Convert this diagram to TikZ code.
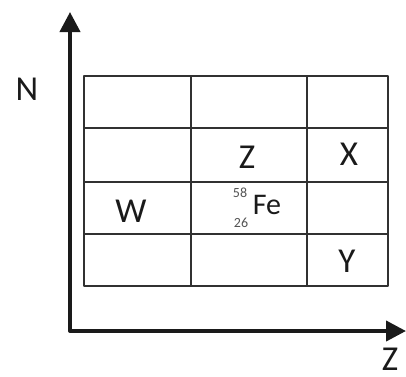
\documentclass[tikz,border=0pt]{standalone}
\usepackage{fontspec}
\setmainfont{Carlito}
\usetikzlibrary{arrows.meta}
\definecolor{ink}{HTML}{1A1A1A}
\begin{document}
\begin{tikzpicture}[x=1pt,y=-1pt,line join=round,
    font=\fontsize{35}{38}\selectfont,
    lbl/.style={text=ink,inner sep=0pt},
    small/.style={text=ink!75,inner sep=0pt,font=\fontsize{14}{15}\selectfont}]
  \useasboundingbox (0,0) rectangle (406,376);
  % axes
  \coordinate (O) at (70,331);
  \coordinate (Ntop) at (70,12);
  \coordinate (Zend) at (406,331);
  \draw[ink,line width=4pt,{Triangle[length=20pt,width=20pt]}-{Triangle[length=20pt,width=20pt]}]
    (Ntop)--(O)--(Zend);
  % grid
  \draw[ink!90,line width=2pt] (84,76) rectangle (388,286);
  \draw[ink!90,line width=2pt] (191,76)--(191,286) (307,76)--(307,286)
    (84,128)--(388,128) (84,182)--(388,182) (84,234)--(388,234);
  % labels
  \node[lbl] (N) at (27,89) {N};
  \node[lbl] (Zax) at (390,359) {Z};
  \node[lbl] (Z) at (247,157) {Z};
  \node[lbl] (X) at (349,154) {X};
  \node[lbl] (W) at (131,211) {W};
  \node[lbl] (Y) at (347,261) {Y};
  \node[lbl,font=\fontsize{30}{32}\selectfont] (Fe) at (267,205) {Fe};
  \node[small] (A) at (240,193) {58};
  \node[small] (Zn) at (241,223) {26};
\end{tikzpicture}
\end{document}
